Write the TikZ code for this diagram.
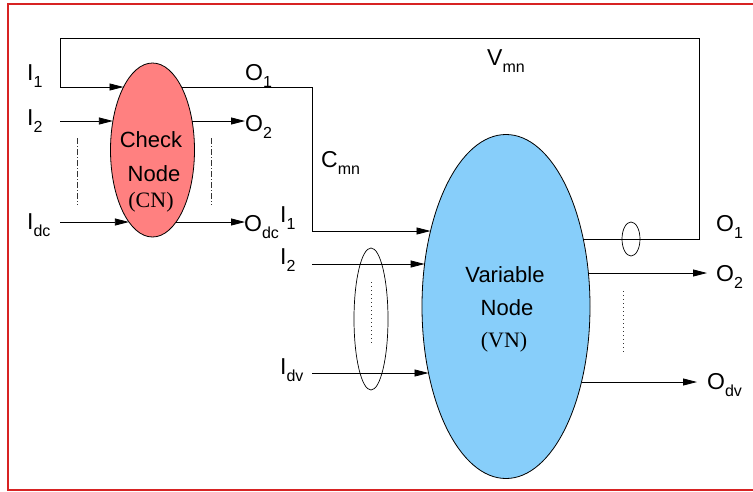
\documentclass[tikz,border=0pt]{standalone}
\usepackage{fontspec}
\setmainfont{Liberation Sans}
\newfontfamily\tmsfont{Liberation Serif}
\usetikzlibrary{shapes.geometric,arrows.meta}
\definecolor{cnfill}{RGB}{255,128,128}
\definecolor{vnfill}{RGB}{135,206,250}
\definecolor{framered}{RGB}{215,35,35}
\newcommand\lbl[2]{#1\raisebox{-7pt}{\fontsize{16}{16}\selectfont #2}}
\tikzset{
  wire/.style={line width=0.8pt,black},
  arr/.style={wire,-{Triangle[length=14pt,width=7pt]}},
  lab/.style={anchor=base west,inner sep=0pt,font=\fontsize{23}{23}\selectfont},
  intext/.style={anchor=base,inner sep=0pt,font=\fontsize{22}{22}\selectfont},
  rmtext/.style={anchor=base,inner sep=0pt,font=\fontsize{22}{22}\selectfont\tmsfont},
  bigell/.style={ellipse,draw,line width=0.8pt,inner sep=0pt},
  grp/.style={ellipse,draw,line width=0.7pt,inner sep=0pt},
  dashdot/.style={line width=0.6pt,black!80,dash pattern=on 6pt off 2pt on 1pt off 2pt},
  dots/.style={line width=0.8pt,black!80,dash pattern=on 1pt off 3pt}
}
\begin{document}
\begin{tikzpicture}[x=1pt,y=-1pt]
\useasboundingbox (0,0) rectangle (753,491);
% frame
\draw[framered,line width=1.5pt] (760,4) -- (8,4) -- (8,490) -- (760,490);

% main nodes
\node[bigell,fill=cnfill,minimum width=84pt,minimum height=174pt] (cn) at (152.5,150) {};
\node[bigell,fill=vnfill,minimum width=168pt,minimum height=344pt] (vn) at (506,306.5) {};
\node[intext] (cnt1) at (151,147) {Check};
\node[intext] (cnt2) at (154,181) {Node};
\node[rmtext] (cnt3) at (151,207) {(CN)};
\node[intext] (vnt1) at (505,282) {Variable};
\node[intext] (vnt2) at (507,315) {Node};
\node[rmtext] (vnt3) at (504,347) {(VN)};

% group ellipses
\node[grp,minimum width=34pt,minimum height=142pt] (gl) at (371,319) {};
\node[grp,minimum width=18pt,minimum height=34pt] (gr) at (631,239) {};

% coordinates on CN
\coordinate (cnI1) at (123.5,87);
\coordinate (cnO1) at (181.5,87);
\coordinate (cnI2) at (112.9,121);
\coordinate (cnO2) at (192.1,121);
\coordinate (cnId) at (128.9,222);
\coordinate (cnOd) at (176.1,222);
% coordinates on VN
\coordinate (vnI1) at (430.5,231);
\coordinate (vnI2) at (424.6,264);
\coordinate (vnId) at (428.5,373);
\coordinate (vnO1) at (583.3,239);
\coordinate (vnO2) at (588.4,273);
\coordinate (vnOd) at (581.5,382);
% free ends and corners
\coordinate (a1) at (60,87);
\coordinate (a2) at (60,38);
\coordinate (a3) at (699,38);
\coordinate (a4) at (699,239);
\coordinate (b1) at (312,87);
\coordinate (b2) at (312,231);
\coordinate (i2s) at (60,121);
\coordinate (o2e) at (245,121);
\coordinate (ids) at (60,222);
\coordinate (ode) at (245,222);
\coordinate (vi2s) at (312,264);
\coordinate (vids) at (312,373);
\coordinate (vo2e) at (707,273);
\coordinate (vode) at (697,382);

% loop V_mn
\draw[wire] (vnO1) -- (a4) -- (a3) -- (a2) -- (a1);
\draw[arr] (a1) -- (cnI1);
% C_mn
\draw[wire] (cnO1) -- (b1) -- (b2);
\draw[arr] (b2) -- (vnI1);
% CN inputs/outputs
\draw[arr] (i2s) -- (cnI2);
\draw[arr] (cnO2) -- (o2e);
\draw[arr] (ids) -- (cnId);
\draw[arr] (cnOd) -- (ode);
% VN inputs/outputs
\draw[arr] (vi2s) -- (vnI2);
\draw[arr] (vids) -- (vnId);
\draw[arr] (vnO2) -- (vo2e);
\draw[arr] (vnOd) -- (vode);

% ellipsis lines
\draw[dashdot] (77,138) -- (77,205);
\draw[dashdot] (211,138) -- (211,205);
\draw[dots] (371,282) -- (371,344);
\draw[dots] (623,291) -- (623,353);

% labels
\node[lab] (l1) at (27,80) {\lbl{I}{1}};
\node[lab] (l2) at (245,80) {\lbl{O}{1}};
\node[lab] (l3) at (27,125) {\lbl{I}{2}};
\node[lab] (l4) at (245,131) {\lbl{O}{2}};
\node[lab] (l5) at (27,229) {\lbl{I}{dc}};
\node[lab] (l6) at (244,231) {\lbl{O}{dc}};
\node[lab] (l7) at (280,222) {\lbl{I}{1}};
\node[lab] (l8) at (321,167) {\lbl{C}{mn}};
\node[lab] (l9) at (487,65) {\lbl{V}{mn}};
\node[lab] (l10) at (280,264) {\lbl{I}{2}};
\node[lab] (l11) at (280,374) {\lbl{I}{dv}};
\node[lab] (l12) at (716,231) {\lbl{O}{1}};
\node[lab] (l13) at (716,281) {\lbl{O}{2}};
\node[lab] (l14) at (707,389) {\lbl{O}{dv}};
\end{tikzpicture}
\end{document}
